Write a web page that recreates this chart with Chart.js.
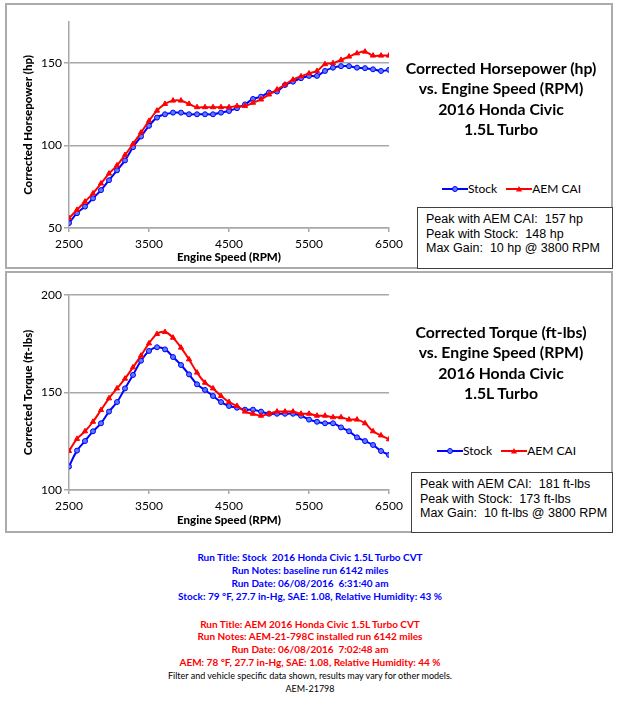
<!DOCTYPE html>
<html>
<head>
<meta charset="utf-8">
<script src="https://cdn.jsdelivr.net/npm/chart.js@4.4.1/dist/chart.umd.min.js"></script>
<style>
  body { margin: 0; background: #fff; width: 620px; height: 703px; position: relative; overflow: hidden; font-family: Lato, "Liberation Sans", sans-serif; }
  .panel { position: absolute; box-sizing: border-box; border: 2px solid #ababab; background: #fff; }
  canvas { position: absolute; z-index: 2; }
  .title { position: absolute; z-index: 3; width: 230px; text-align: center; font-weight: bold; font-size: 15.8px; line-height: 20.3px; color: #000; }
  .legend { position: absolute; z-index: 3; font-size: 12px; line-height: 14px; color: #000; white-space: nowrap; }
  .legend svg { vertical-align: middle; }
  .legend span { vertical-align: middle; }
  .info { position: absolute; z-index: 3; box-sizing: border-box; border: 1.5px solid #404040; background: #fff;
          font-family: "Liberation Sans", Arial, sans-serif; font-size: 12.5px; line-height: 14.5px; white-space: pre; padding: 4px 0 0 8px; color: #000; }
  .note { position: absolute; left: 0; width: 620px; text-align: center; height: 13px; line-height: 13px; font-size: 10px; font-weight: bold; white-space: pre; }
  .blue { color: #0000ff; }
  .red { color: #ff0000; }
  .black { color: #000; font-weight: normal; font-size: 9px; }
</style>
</head>
<body>
<div class="panel" style="left:5px;top:3px;width:608px;height:266px;"></div>
<div class="panel" style="left:5px;top:271px;width:608px;height:262px;"></div>

<canvas id="hpChart" width="410" height="268" style="left:0;top:0;"></canvas>
<canvas id="tqChart" width="410" height="260" style="left:0;top:272px;"></canvas>

<div class="title" style="left:386px;top:58px;">Corrected Horsepower (hp)<br>vs. Engine Speed (RPM)<br>2016 Honda Civic<br>1.5L Turbo</div>
<div class="title" style="left:386px;top:322px;">Corrected Torque (ft-lbs)<br>vs. Engine Speed (RPM)<br>2016 Honda Civic<br>1.5L Turbo</div>

<div class="legend" style="left:442px;top:181px;">
  <svg width="26" height="10"><line x1="0" y1="5" x2="26" y2="5" stroke="#0000ff" stroke-width="2"/><circle cx="13" cy="5" r="2.5" fill="#5a7dff" stroke="#0000ff" stroke-width="1"/></svg><span>Stock</span>
  <svg width="26" height="10" style="margin-left:6px"><line x1="0" y1="5" x2="26" y2="5" stroke="#ff0000" stroke-width="2"/><polygon points="13,2 16,7.5 10,7.5" fill="#ff0000"/></svg><span>AEM CAI</span>
</div>
<div class="legend" style="left:437px;top:443px;">
  <svg width="26" height="10"><line x1="0" y1="5" x2="26" y2="5" stroke="#0000ff" stroke-width="2"/><circle cx="13" cy="5" r="2.5" fill="#5a7dff" stroke="#0000ff" stroke-width="1"/></svg><span>Stock</span>
  <svg width="26" height="10" style="margin-left:6px"><line x1="0" y1="5" x2="26" y2="5" stroke="#ff0000" stroke-width="2"/><polygon points="13,2 16,7.5 10,7.5" fill="#ff0000"/></svg><span>AEM CAI</span>
</div>

<div class="info" style="left:417px;top:207px;width:196px;height:62px;">Peak with AEM CAI:  157 hp
Peak with Stock:  148 hp
Max Gain:  10 hp @ 3800 RPM</div>
<div class="info" style="left:411px;top:472px;width:202px;height:61px;">Peak with AEM CAI:  181 ft-lbs
Peak with Stock:  173 ft-lbs
Max Gain:  10 ft-lbs @ 3800 RPM</div>

<div class="note blue" style="top:551px;">Run Title: Stock  2016 Honda Civic 1.5L Turbo CVT</div>
<div class="note blue" style="top:564px;">Run Notes: baseline run 6142 miles</div>
<div class="note blue" style="top:577px;">Run Date: 06/08/2016  6:31:40 am</div>
<div class="note blue" style="top:590px;">Stock: 79 °F, 27.7 in-Hg, SAE: 1.08, Relative Humidity: 43 %</div>
<div class="note red" style="top:618px;">Run Title: AEM 2016 Honda Civic 1.5L Turbo CVT</div>
<div class="note red" style="top:630px;">Run Notes: AEM-21-798C installed run 6142 miles</div>
<div class="note red" style="top:643px;">Run Date: 06/08/2016  7:02:48 am</div>
<div class="note red" style="top:656px;">AEM: 78 °F, 27.7 in-Hg, SAE: 1.08, Relative Humidity: 44 %</div>
<div class="note black" style="top:669px;">Filter and vehicle specific data shown, results may vary for other models.</div>
<div class="note black" style="top:682px;">AEM-21798</div>

<script>
// engine speed (RPM), one point every 100 rpm
const rpm = [2500, 2600, 2700, 2800, 2900, 3000, 3100, 3200, 3300, 3400,
             3500, 3600, 3700, 3800, 3900, 4000, 4100, 4200, 4300, 4400,
             4500, 4600, 4700, 4800, 4900, 5000, 5100, 5200, 5300, 5400,
             5500, 5600, 5700, 5800, 5900, 6000, 6100, 6200, 6300, 6400, 6500];

// corrected horsepower (hp)
const hpStock = [53, 59, 63, 68, 73, 79, 85, 91, 99, 105.5,
                 112, 117, 119, 120, 120, 119, 119, 119, 119, 120,
                 121, 122.7, 125, 128.3, 129.7, 132.2, 132.8, 136.8, 138.8, 140.9,
                 142.3, 142.3, 145.3, 147.3, 148.2, 148.2, 147.3, 147, 146.3, 145.3, 146];
const hpAem = [56, 61, 66, 71, 77, 83, 88, 94.3, 101, 107.9,
               115, 121.2, 125.3, 127.3, 127.3, 125.3, 123.3, 123.3, 123.3, 123.3,
               123.3, 124, 124, 126, 128, 131, 134, 137, 140, 142,
               143.8, 145.3, 149.4, 150, 152, 154, 156, 157, 154.6, 154.6, 154.6];

// corrected torque (ft-lbs)
const tqStock = [112, 120.2, 125.1, 130.1, 134.2, 140.2, 145.1, 152.1, 159, 166.3,
                 171.3, 173.2, 172.1, 168.2, 164.1, 159.3, 154.2, 151.3, 148.2, 145.1,
                 143.1, 142.2, 141.2, 141.2, 140.2, 139.1, 139.1, 139.1, 139.1, 138.1,
                 136.1, 135, 134.2, 134.2, 132.1, 130.1, 127, 125.1, 123.1, 120, 118];
const tqAem = [120, 126.2, 130.1, 135, 141, 147, 152.1, 157.1, 162.9, 168.9,
               175.2, 180, 181, 178.1, 173, 167, 160.2, 155, 152.1, 148.2,
               145.1, 143.1, 140.2, 139.1, 138.1, 139.1, 140.2, 140.2, 140.2, 139.1,
               139.1, 138.1, 138.1, 137.3, 137.3, 136.1, 136.1, 134.2, 130.1, 128, 126];

// tick labels
const rpmTicks = [2500, 3500, 4500, 5500, 6500];
const hpTicks = [50, 100, 150];
const tqTicks = [100, 150, 200];

const seriesNames = ['Stock', 'AEM CAI'];

const gridColor = '#a8a8a8';
const tickFont = { family: 'Lato', size: 12 };
const titleFont = { family: 'Lato', size: 11.5, weight: '900' };

function pts(vals) {
  return rpm.map((r, i) => ({ x: r, y: vals[i] }));
}

function makeChart(id, stock, aem, yMin, yMax, yTicks, yTitle, box) {
  const ctx = document.getElementById(id).getContext('2d');
  return new Chart(ctx, {
    type: 'line',
    data: {
      datasets: [
        {
          label: seriesNames[0],
          data: pts(stock),
          borderColor: '#0000ff',
          backgroundColor: '#5a7dff',
          pointStyle: 'circle',
          pointRadius: 2.5,
          pointBorderWidth: 1,
          borderWidth: 2,
          tension: 0.4,
          order: 1,
        },
        {
          label: seriesNames[1],
          data: pts(aem),
          borderColor: '#ff0000',
          backgroundColor: '#ff0000',
          pointStyle: 'triangle',
          pointRadius: 3,
          pointBorderWidth: 1,
          borderWidth: 2,
          tension: 0.4,
          order: 0,
        },
      ],
    },
    options: {
      responsive: false,
      animation: false,
      layout: { padding: { top: box.top, right: box.right, left: 0, bottom: 0 } },
      plugins: { legend: { display: false }, tooltip: { enabled: false } },
      scales: {
        x: {
          type: 'linear',
          min: rpmTicks[0],
          max: rpmTicks[rpmTicks.length - 1],
          afterBuildTicks: (s) => { s.ticks = rpmTicks.map((v) => ({ value: v })); },
          afterFit: (s) => { s.height = box.xHeight; },
          grid: { drawOnChartArea: false, tickLength: 4, color: gridColor, lineWidth: 1.5 },
          border: { color: gridColor, width: 1.5 },
          ticks: { font: tickFont, color: '#000', padding: 5, maxRotation: 0, callback: (v) => String(v) },
          title: { display: true, text: 'Engine Speed (RPM)', font: titleFont, color: '#000', padding: { top: 0, bottom: box.xTitlePad } },
        },
        y: {
          min: yMin,
          max: yMax,
          afterBuildTicks: (s) => { s.ticks = yTicks.map((v) => ({ value: v })); },
          afterFit: (s) => { s.width = 69; },
          grid: { color: gridColor, tickLength: 5, lineWidth: 1.5 },
          border: { color: gridColor, width: 1.5 },
          ticks: { font: tickFont, color: '#000', padding: 2, callback: (v) => String(v) },
          title: { display: true, text: yTitle, font: titleFont, color: '#000', padding: { top: 21, bottom: 0 } },
        },
      },
    },
  });
}

makeChart('hpChart', hpStock, hpAem, 50, 175, hpTicks, 'Corrected Horsepower (hp)',
  { top: 22, right: 21, xHeight: 40, xTitlePad: 4 });
makeChart('tqChart', tqStock, tqAem, 100, 200, tqTicks, 'Corrected Torque (ft-lbs)',
  { top: 23, right: 21, xHeight: 42, xTitlePad: 5 });
</script>
</body>
</html>
